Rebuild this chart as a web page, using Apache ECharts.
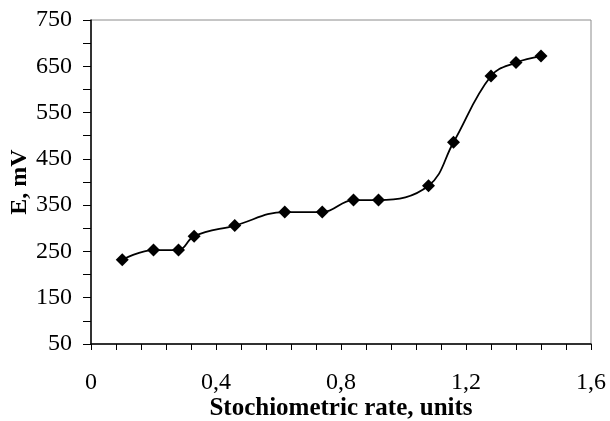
<!DOCTYPE html>
<html>
<head>
<meta charset="utf-8">
<script src="https://cdn.jsdelivr.net/npm/echarts@6/dist/echarts.min.js"></script>
<style>
html,body{margin:0;padding:0;background:#fff;}
#chart{width:610px;height:421px;}
</style>
</head>
<body>
<div id="chart"></div>
<script>
var stoichRate = [0.10, 0.20, 0.28, 0.33, 0.46, 0.62, 0.74, 0.84, 0.92, 1.08, 1.16, 1.28, 1.36, 1.44];
var potentialMV = [232, 253, 253, 283, 306, 335, 335, 361, 361, 392, 486, 629, 658, 672];
var xAxisTitle = 'Stochiometric rate, units';
var yAxisTitle = 'E, mV';

var points = stoichRate.map(function (x, i) { return [x, potentialMV[i]]; });
var serif = '"Liberation Serif", "Times New Roman", serif';

var chart = echarts.init(document.getElementById('chart'), null, {renderer: 'canvas'});
chart.setOption({
  animation: false,
  backgroundColor: '#fff',
  grid: {
    left: 91, right: 19, top: 20, bottom: 77,
    outerBoundsMode: 'none',
    containLabel: false,
    show: true, borderColor: '#8c8c8c', borderWidth: 1, backgroundColor: 'transparent'
  },
  xAxis: {
    type: 'value',
    min: 0, max: 1.6, interval: 0.4,
    name: xAxisTitle,
    nameLocation: 'middle',
    nameGap: 52,
    nameMoveOverlap: false,
    nameTextStyle: {fontFamily: serif, fontWeight: 'bold', fontSize: 25, color: '#000'},
    axisLine: {show: true, onZero: false, lineStyle: {color: '#000', width: 1.5}},
    axisTick: {show: true, inside: false, length: 6, lineStyle: {color: '#000', width: 1}},
    minorTick: {show: true, splitNumber: 5, length: 6, lineStyle: {color: '#000', width: 1}},
    splitLine: {show: false},
    minorSplitLine: {show: false},
    axisLabel: {
      fontFamily: serif, fontSize: 24, color: '#000', margin: 27,
      formatter: function (v) { return v === 0 ? '0' : v.toFixed(1).replace('.', ','); }
    }
  },
  yAxis: {
    type: 'value',
    min: 50, max: 750, interval: 50,
    name: yAxisTitle,
    nameLocation: 'middle',
    nameGap: 59,
    nameMoveOverlap: false,
    nameRotate: 90,
    nameTextStyle: {fontFamily: serif, fontWeight: 'bold', fontSize: 24, color: '#000'},
    axisLine: {show: true, onZero: false, lineStyle: {color: '#000', width: 1.5}},
    axisTick: {show: true, inside: false, length: 8, lineStyle: {color: '#000', width: 1}},
    splitLine: {show: false},
    axisLabel: {
      fontFamily: serif, fontSize: 24, color: '#000', margin: 19,
      formatter: function (v) { return ((v - 50) % 100 === 0) ? String(v) : ''; }
    }
  },
  series: [{
    type: 'line',
    data: points,
    smooth: 0.4,
    symbol: 'diamond',
    symbolSize: [13, 13],
    lineStyle: {color: '#000', width: 1.8},
    itemStyle: {color: '#000'},
    z: 5
  }]
});
</script>
</body>
</html>
